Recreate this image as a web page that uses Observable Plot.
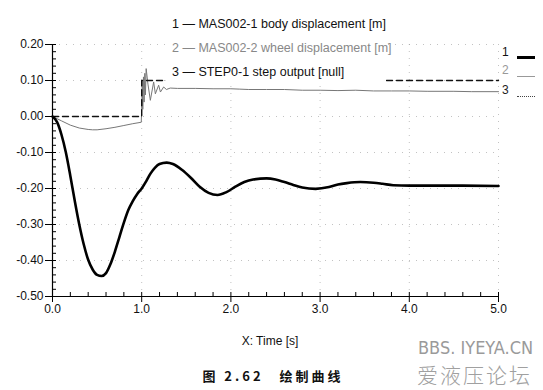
<!DOCTYPE html>
<html>
<head>
<meta charset="utf-8">
<script src="https://cdn.jsdelivr.net/npm/d3@7"></script>
<script src="https://cdn.jsdelivr.net/npm/@observablehq/plot@0.6"></script>
<style>
  html, body { margin: 0; padding: 0; background: #fff; }
  #wrap { position: relative; width: 543px; height: 390px; font-family: "Liberation Sans", Arial, sans-serif; }
  #wrap svg { position: absolute; left: 0; top: 0; }
  .ov { position: absolute; white-space: nowrap; line-height: 1; }
  #legend { left: 166px; top: 14px; width: 220px; height: 68px; background: #fff; font-size: 12.5px; color: #111; }
  #legend div { position: absolute; left: 6px; }
  .side { font-size: 12px; }
  .sw { position: absolute; width: 18px; }
</style>
</head>
<body>
<div id="wrap"></div>
<script>
// ---- data ----
const bodyT = [0, 0.05, 0.1, 0.15, 0.2, 0.25, 0.3, 0.35, 0.4, 0.45, 0.5, 0.55, 0.6, 0.65, 0.7, 0.75, 0.8, 0.85, 0.9, 0.95, 1.0, 1.05, 1.1, 1.15, 1.2, 1.28, 1.35, 1.45, 1.55, 1.65, 1.75, 1.85, 1.95, 2.05, 2.15, 2.25, 2.4, 2.5, 2.6, 2.7, 2.8, 2.95, 3.1, 3.2, 3.3, 3.45, 3.6, 3.7, 3.82, 4.0, 4.5, 5.0];
const bodyV = [0, -0.015, -0.05, -0.10, -0.165, -0.235, -0.30, -0.355, -0.398, -0.425, -0.44, -0.443, -0.435, -0.41, -0.375, -0.335, -0.295, -0.26, -0.235, -0.215, -0.20, -0.18, -0.158, -0.142, -0.132, -0.128, -0.132, -0.148, -0.17, -0.195, -0.212, -0.218, -0.21, -0.195, -0.182, -0.175, -0.172, -0.175, -0.182, -0.19, -0.197, -0.201, -0.196, -0.189, -0.185, -0.182, -0.184, -0.187, -0.191, -0.192, -0.192, -0.193];

const wheelT = [0, 0.1, 0.2, 0.3, 0.4, 0.45, 0.5, 0.6, 0.7, 0.8, 0.9, 0.995, 1.0, 1.006, 1.012, 1.02, 1.027, 1.035, 1.042, 1.05, 1.07, 1.097, 1.134, 1.153, 1.19, 1.21, 1.246, 1.277, 1.32, 1.4, 1.6, 1.8, 2.0, 2.1, 2.2, 2.4, 2.6, 2.8, 3.0, 3.2, 3.4, 3.6, 3.8, 4.0, 4.2, 4.5, 4.7, 5.0];
const wheelV = [0, -0.012, -0.024, -0.032, -0.036, -0.037, -0.037, -0.034, -0.030, -0.025, -0.020, -0.016, 0.02, 0.10, 0.02, 0.11, 0.04, 0.12, 0.06, 0.133, 0.09, 0.045, 0.096, 0.063, 0.087, 0.068, 0.082, 0.075, 0.079, 0.078, 0.078, 0.077, 0.077, 0.076, 0.075, 0.075, 0.075, 0.073, 0.073, 0.072, 0.073, 0.071, 0.071, 0.071, 0.070, 0.070, 0.069, 0.069];

const stepT = [0, 1.0, 1.0, 5.0];
const stepV = [0, 0, 0.1, 0.1];

const yMajor = [-0.5, -0.4, -0.3, -0.2, -0.1, 0, 0.1, 0.2];
const yMinor = d3.range(-50, 21, 2).map(d => d / 100);
const xMajor = [0, 1, 2, 3, 4, 5];
const xMinor = d3.range(0, 26, 1).map(d => d / 5);

const seriesNames = ["MAS002-1 body displacement [m]", "MAS002-2 wheel displacement [m]", "STEP0-1 step output [null]"];
const xLabel = "X: Time [s]";
const caption = "图 2.62　绘制曲线";
const watermark = ["BBS. IYEYA.CN", "爱液压论坛"];

// ---- tables ----
const body = bodyT.map((t, i) => ({t, v: bodyV[i]}));
const wheel = wheelT.map((t, i) => ({t, v: wheelV[i]}));
const step = stepT.map((t, i) => ({t, v: stepV[i]}));

const chart = Plot.plot({
  width: 543,
  height: 390,
  marginLeft: 52,
  marginRight: 45,
  marginTop: 44,
  marginBottom: 94,
  style: {fontFamily: "Liberation Sans, Arial, sans-serif", fontSize: "12px", color: "#111", background: "transparent"},
  x: {domain: [0, 5], label: null},
  y: {domain: [-0.5, 0.2], label: null},
  marks: [
    Plot.gridX(xMajor, {stroke: "#999", strokeOpacity: 0.6, strokeDasharray: "1,6"}),
    Plot.gridY(yMajor, {stroke: "#999", strokeOpacity: 0.6, strokeDasharray: "1,6"}),
    Plot.line(wheel, {x: "t", y: "v", stroke: "#777", strokeWidth: 1}),
    Plot.line(step, {x: "t", y: "v", stroke: "#111", strokeWidth: 1.4, strokeDasharray: "6,4"}),
    Plot.line(body, {x: "t", y: "v", stroke: "#000", strokeWidth: 2.6, curve: "monotone-x"}),
    Plot.ruleX([0], {stroke: "#000", strokeWidth: 1.2}),
    Plot.ruleY([-0.5], {stroke: "#000", strokeWidth: 1.2}),
    Plot.axisY({ticks: yMajor, tickSize: 7, tickPadding: 2, tickFormat: d => d.toFixed(2), label: null, stroke: "#000", fill: "#111", fontSize: 12}),
    Plot.axisY({ticks: yMinor, tickSize: -4, tickPadding: 0, tickFormat: () => "", label: null, stroke: "#000"}),
    Plot.axisX({ticks: xMajor, tickSize: 6, tickPadding: 2, tickFormat: d => d.toFixed(1), label: null, stroke: "#000", fill: "#111", fontSize: 12}),
    Plot.axisX({ticks: xMinor, tickSize: -4, tickPadding: 0, tickFormat: () => "", label: null, stroke: "#000"})
  ]
});

const wrap = document.getElementById("wrap");
wrap.appendChild(chart);

function addDiv(parent, cls, html, style) {
  const d = document.createElement("div");
  d.className = cls;
  d.innerHTML = html;
  Object.assign(d.style, style);
  parent.appendChild(d);
  return d;
}

// top legend (white box over the plot)
const legend = addDiv(wrap, "ov", "", {});
legend.id = "legend";
const legColors = ["#111", "#888", "#111"];
seriesNames.forEach((name, i) => {
  addDiv(legend, "", `${i + 1} — ${name}`, {top: (4 + i * 24) + "px", color: legColors[i]});
});

// right-side labels
const sideColors = ["#111", "#999", "#222"];
const sideTops = [46, 64, 84];
const swStyles = [
  {borderTop: "3px solid #000", top: "56px"},
  {borderTop: "1px solid #999", top: "76px"},
  {borderTop: "1.5px dotted #444", top: "96px"}
];
[0, 1, 2].forEach(i => {
  addDiv(wrap, "ov side", String(i + 1), {left: "502px", top: sideTops[i] + "px", color: sideColors[i]});
  addDiv(wrap, "ov sw", "", Object.assign({left: "517px"}, swStyles[i]));
});

// x-axis label
addDiv(wrap, "ov", xLabel, {left: "270px", top: "335px", transform: "translateX(-50%)", fontSize: "12px", color: "#111"});

// caption
addDiv(wrap, "ov", caption, {left: "273px", top: "369px", transform: "translateX(-50%)", fontSize: "13px", fontWeight: "bold", letterSpacing: "3px", fontFamily: "'Noto Sans CJK SC', sans-serif", color: "#111"});

// watermark
addDiv(wrap, "ov", watermark[0], {left: "418px", top: "339px", fontSize: "18px", color: "#9a9a9a", fontFamily: "'Liberation Sans Narrow', 'DejaVu Sans Condensed', sans-serif"});
addDiv(wrap, "ov", watermark[1], {left: "417px", top: "364px", fontSize: "21px", letterSpacing: "2px", color: "#a0a0a0", fontFamily: "'Noto Sans CJK SC', sans-serif", fontWeight: "300"});
</script>
</body>
</html>
